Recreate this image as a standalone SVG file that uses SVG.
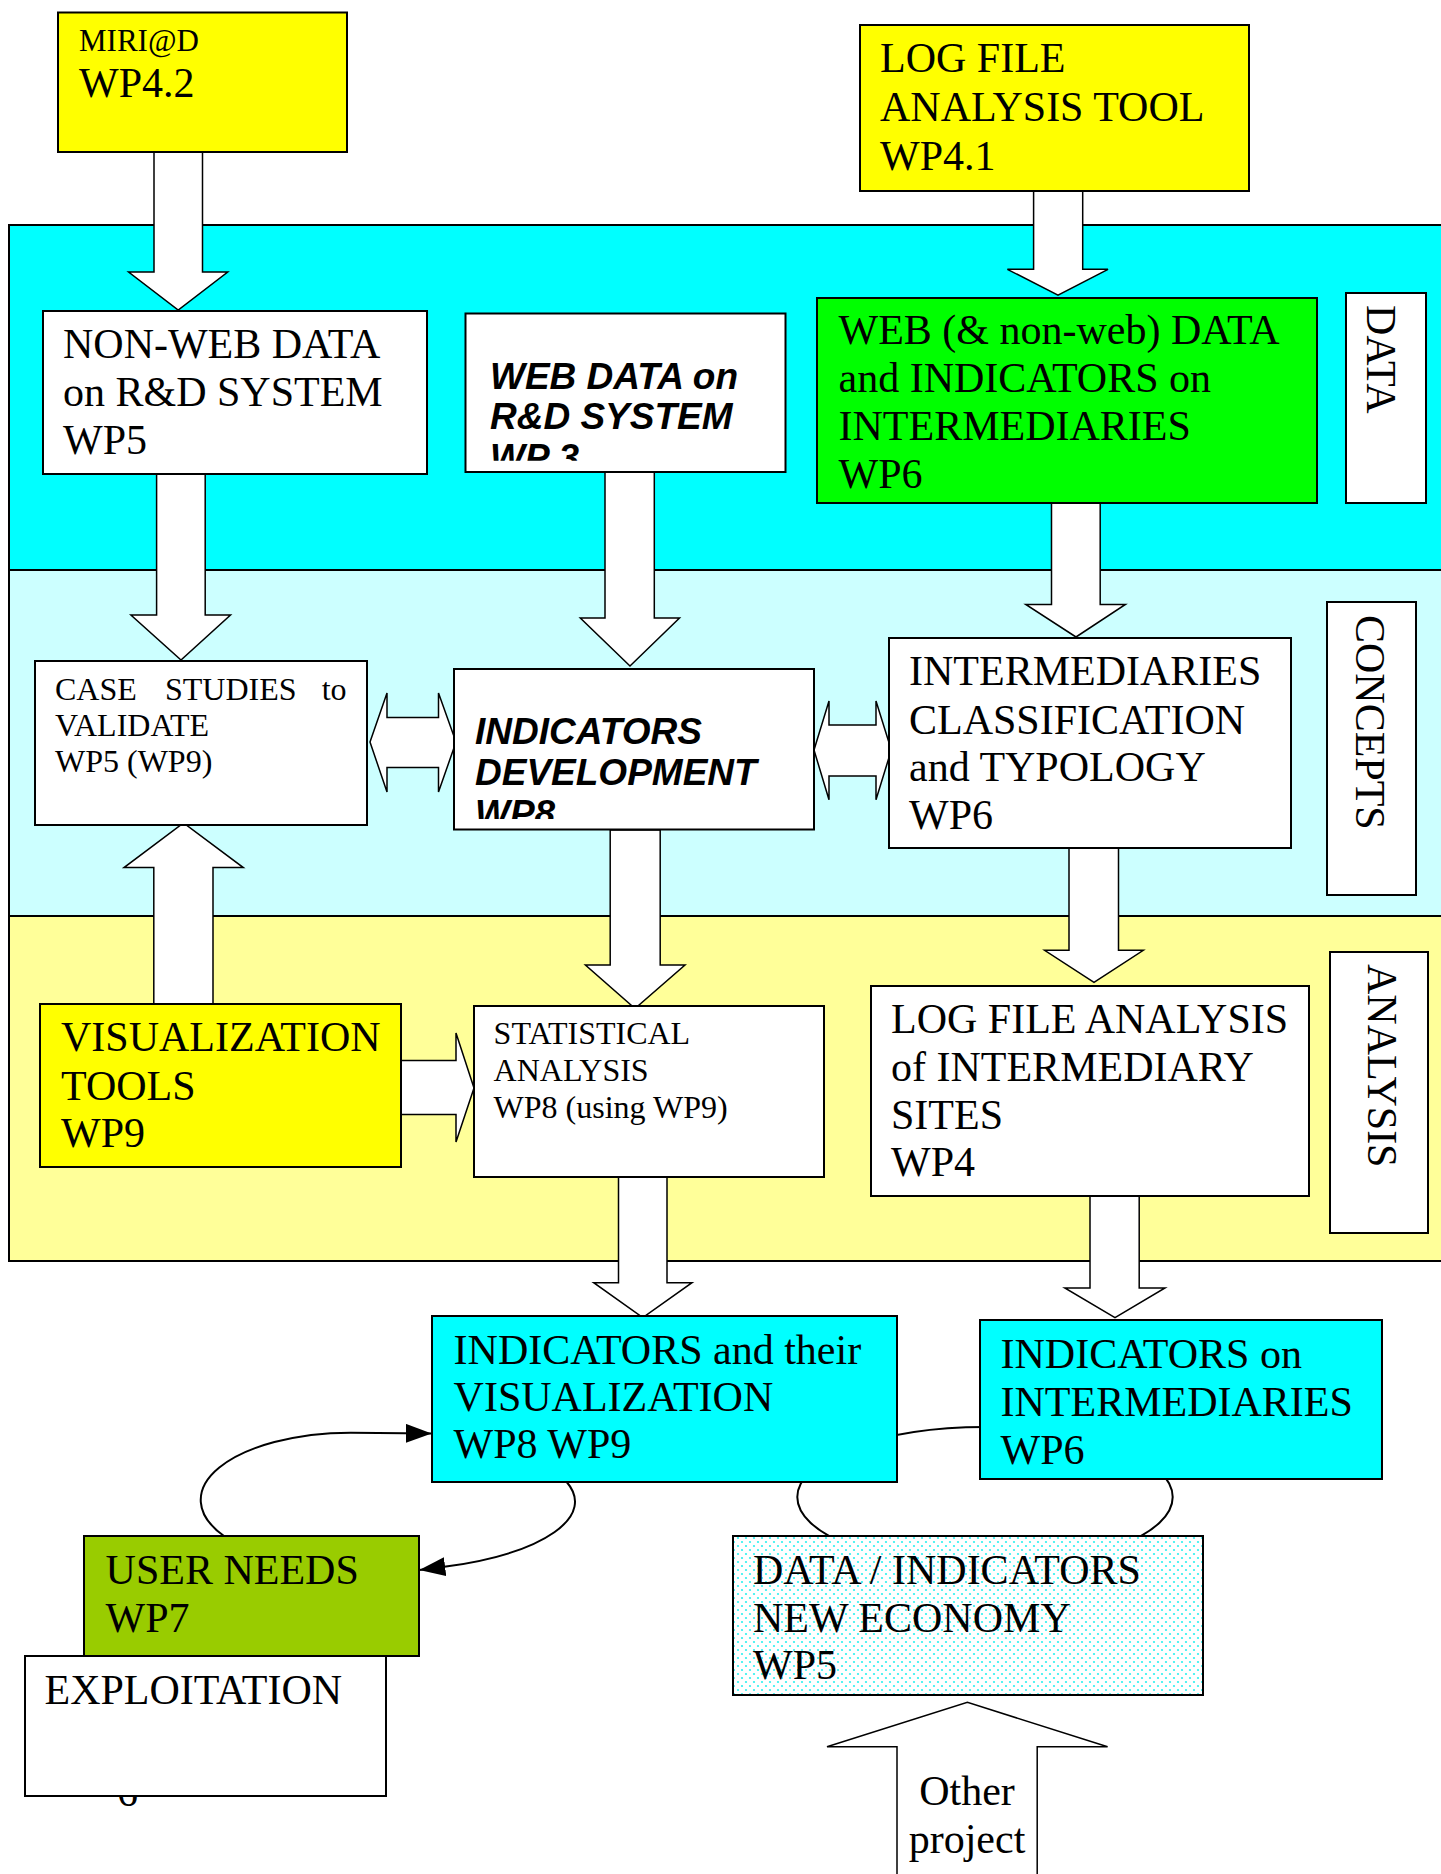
<svg xmlns="http://www.w3.org/2000/svg" width="1441" height="1874" viewBox="0 0 1441 1874">
  <style>
    .band { stroke: #000; stroke-width: 2; }
    .box { stroke: #000; stroke-width: 2; }
    .blk { fill: #fff; stroke: #000; stroke-width: 1.5; stroke-linejoin: miter; }
    .wire { fill: none; stroke: #000; stroke-width: 2; }
    .t { font-family: "Liberation Serif", "Times New Roman", serif; font-size: 42px; fill: #000; }
    .s { font-size: 32px; }
    .m { font-size: 31px; }
    .b { font-family: "Liberation Sans", Arial, sans-serif; font-weight: bold; font-style: italic; font-size: 37px; fill: #000; }
  </style>
  <defs>
    <pattern id="dots" width="8" height="8" patternUnits="userSpaceOnUse">
      <rect width="8" height="8" fill="#fff"/>
      <circle cx="2" cy="2" r="1.1" fill="#2ef0f0"/>
      <circle cx="6" cy="6" r="1.1" fill="#2ef0f0"/>
    </pattern>
    <marker id="head" markerUnits="userSpaceOnUse" markerWidth="28" markerHeight="20" refX="26" refY="9.5" orient="auto">
      <path d="M0,0 L26,9.5 L0,19 Z" fill="#000"/>
    </marker>
    <clipPath id="clipWeb"><rect x="466" y="314" width="319" height="146.7"/></clipPath>
    <clipPath id="clipInd"><rect x="455" y="670" width="358" height="149"/></clipPath>
  </defs>

  <!-- layer bands -->
  <g id="bands">
    <rect class="band" x="9" y="225" width="1440" height="345" fill="#0ff"/>
    <rect class="band" x="9" y="570" width="1440" height="346" fill="#cff"/>
    <rect class="band" x="9" y="916" width="1440" height="345" fill="#ff9"/>
  </g>

  <!-- page number, partly hidden by the EXPLOITATION box -->
  <text class="t" x="127.5" y="1806" font-size="20" text-anchor="middle">6</text>

  <g id="connectors">
    <!-- loop behind the output boxes -->
    <ellipse class="wire" cx="985" cy="1497" rx="187.7" ry="70"/>
    <!-- user needs feedback loop -->
    <path class="wire" d="M224,1536 A150 67.3 0 0 1 350.7,1432.7 L431.7,1433.6" marker-end="url(#head)"/>
    <path class="wire" d="M566.7,1482 A206 70 0 0 1 446,1566.6 L419.3,1570" marker-end="url(#head)"/>

    <!-- block arrows -->
    <path class="blk" d="M154,152 L202.5,152 L202.5,272 L227.7,272 L178.2,310 L128.6,272 L154,272 Z"/>
    <path class="blk" d="M1033.6,191 L1082.7,191 L1082.7,269.3 L1108,269.3 L1058,295.2 L1007.4,269.3 L1033.6,269.3 Z"/>
    <path class="blk" d="M156.6,474 L205.2,474 L205.2,615 L230.5,615 L181,660 L130.9,615 L156.6,615 Z"/>
    <path class="blk" d="M605,472 L654.3,472 L654.3,618 L679.5,618 L630,666 L580.3,618 L605,618 Z"/>
    <path class="blk" d="M1051.5,503 L1100.2,503 L1100.2,604.5 L1125.4,604.5 L1076,637 L1025.8,604.5 L1051.5,604.5 Z"/>
    <path class="blk" d="M153.8,1004 L213,1004 L213,867.6 L243.3,867.6 L183.5,823 L124,867.6 L153.8,867.6 Z"/>
    <path class="blk" d="M610.2,830 L660.2,830 L660.2,965 L685,965 L635,1008.6 L585.4,965 L610.2,965 Z"/>
    <path class="blk" d="M1069,848 L1118.5,848 L1118.5,950.3 L1143.3,950.3 L1094,982.4 L1044.6,950.3 L1069,950.3 Z"/>
    <path class="blk" d="M618.5,1177 L667,1177 L667,1282.7 L692,1282.7 L642.8,1317.6 L593.7,1282.7 L618.5,1282.7 Z"/>
    <path class="blk" d="M1090,1196 L1139.2,1196 L1139.2,1288 L1165,1288 L1115,1317.6 L1064.8,1288 L1090,1288 Z"/>
    <path class="blk" d="M401,1060.5 L456,1060.5 L456,1033 L474,1088 L456,1142 L456,1114.6 L401,1114.6 Z"/>
    <path class="blk" d="M370,742 L387,693 L387,717.5 L438.5,717.5 L438.5,693 L456,742 L438.5,792 L438.5,767.5 L387,767.5 L387,792 Z"/>
    <path class="blk" d="M814,750 L829,701 L829,725 L876,725 L876,701 L891.3,750 L876,799.7 L876,776 L829,776 L829,799.7 Z"/>
    <path class="blk" d="M897,1880 L897,1746.7 L827,1746.7 L967.4,1702.4 L1107.6,1746.7 L1037.2,1746.7 L1037.2,1880 Z"/>
    <text class="t" x="967" y="1805.4" text-anchor="middle">Other</text>
    <text class="t" x="967" y="1853" text-anchor="middle">project</text>
  </g>

  <g id="miriad">
    <rect class="box" x="58" y="12.5" width="289" height="139.5" fill="#ff0"/>
    <text class="t m" x="79" y="50.7">MIRI@D</text>
    <text class="t" x="79" y="97">WP4.2</text>
  </g>

  <g id="logfile-tool">
    <rect class="box" x="860" y="25" width="389" height="166" fill="#ff0"/>
    <text class="t" x="880" y="72">LOG FILE</text>
    <text class="t" x="880" y="121">ANALYSIS TOOL</text>
    <text class="t" x="880" y="169.5">WP4.1</text>
  </g>

  <g id="nonweb-data">
    <rect class="box" x="43" y="311" width="384" height="163" fill="#fff"/>
    <text class="t" x="63" y="358">NON-WEB DATA</text>
    <text class="t" x="63" y="406">on R&amp;D SYSTEM</text>
    <text class="t" x="63" y="454">WP5</text>
  </g>

  <g id="web-data">
    <rect class="box" x="465.5" y="313.5" width="320" height="158.5" fill="#fff"/>
    <g clip-path="url(#clipWeb)">
      <text class="b" x="490" y="389">WEB DATA on</text>
      <text class="b" x="490" y="429.3">R&amp;D SYSTEM</text>
      <text class="b" x="490" y="469.6">WP 3</text>
    </g>
  </g>

  <g id="web-intermediaries">
    <rect class="box" x="817" y="298" width="500" height="205" fill="#0f0"/>
    <text class="t" x="838.5" y="344">WEB (&amp; non-web) DATA</text>
    <text class="t" x="838.5" y="392">and INDICATORS on</text>
    <text class="t" x="838.5" y="440">INTERMEDIARIES</text>
    <text class="t" x="838.5" y="488">WP6</text>
  </g>

  <g id="label-data">
    <rect class="box" x="1346" y="293" width="80" height="210" fill="#fff"/>
    <text class="t" transform="translate(1366.5,305) rotate(90)">DATA</text>
  </g>

  <g id="case-studies">
    <rect class="box" x="35" y="661" width="332" height="164" fill="#fff"/>
    <text class="t s" y="700"><tspan x="55">CASE</tspan><tspan x="165">STUDIES</tspan></text>
    <text class="t s" x="346.6" y="700" text-anchor="end">to</text>
    <text class="t s" x="55" y="736">VALIDATE</text>
    <text class="t s" x="55" y="772">WP5 (WP9)</text>
  </g>

  <g id="indicators-development">
    <rect class="box" x="454" y="669" width="360" height="160.5" fill="#fff"/>
    <g clip-path="url(#clipInd)">
      <text class="b" x="475" y="744">INDICATORS</text>
      <text class="b" x="475" y="785">DEVELOPMENT</text>
      <text class="b" x="475" y="826">WP8</text>
    </g>
  </g>

  <g id="intermediaries-classification">
    <rect class="box" x="889" y="638" width="402" height="210" fill="#fff"/>
    <text class="t" x="909" y="685">INTERMEDIARIES</text>
    <text class="t" x="909" y="733.5">CLASSIFICATION</text>
    <text class="t" x="909" y="781.3">and TYPOLOGY</text>
    <text class="t" x="909" y="828.6">WP6</text>
  </g>

  <g id="label-concepts">
    <rect class="box" x="1327" y="602" width="89" height="293" fill="#fff"/>
    <text class="t" transform="translate(1356,615) rotate(90)">CONCEPTS</text>
  </g>

  <g id="visualization-tools">
    <rect class="box" x="40" y="1004" width="361" height="163" fill="#ff0"/>
    <text class="t" x="61" y="1051">VISUALIZATION</text>
    <text class="t" x="61" y="1099.5">TOOLS</text>
    <text class="t" x="61" y="1147">WP9</text>
  </g>

  <g id="statistical-analysis">
    <rect class="box" x="474" y="1006" width="350" height="171" fill="#fff"/>
    <text class="t s" x="493.6" y="1044.4">STATISTICAL</text>
    <text class="t s" x="493.6" y="1081">ANALYSIS</text>
    <text class="t s" x="493.6" y="1118">WP8 (using WP9)</text>
  </g>

  <g id="logfile-analysis">
    <rect class="box" x="871" y="986" width="438" height="210" fill="#fff"/>
    <text class="t" x="891" y="1033">LOG FILE ANALYSIS</text>
    <text class="t" x="891" y="1081">of INTERMEDIARY</text>
    <text class="t" x="891" y="1129">SITES</text>
    <text class="t" x="891" y="1176">WP4</text>
  </g>

  <g id="label-analysis">
    <rect class="box" x="1330" y="952" width="98" height="281" fill="#fff"/>
    <text class="t" transform="translate(1368,964) rotate(90)">ANALYSIS</text>
  </g>

  <g id="indicators-visualization">
    <rect class="box" x="432" y="1316" width="465" height="166" fill="#0ff"/>
    <text class="t" x="453.6" y="1363.8">INDICATORS and their</text>
    <text class="t" x="453.6" y="1410.7">VISUALIZATION</text>
    <text class="t" x="453.6" y="1457.7">WP8 WP9</text>
  </g>

  <g id="indicators-intermediaries">
    <rect class="box" x="980" y="1320" width="402" height="159" fill="#0ff"/>
    <text class="t" x="1000.5" y="1367.7">INDICATORS on</text>
    <text class="t" x="1000.5" y="1415.8">INTERMEDIARIES</text>
    <text class="t" x="1000.5" y="1463.6">WP6</text>
  </g>

  <g id="user-needs">
    <rect class="box" x="84" y="1536" width="335" height="120" fill="#9c0"/>
    <text class="t" x="105.6" y="1584">USER NEEDS</text>
    <text class="t" x="105.6" y="1632">WP7</text>
  </g>

  <g id="exploitation">
    <rect class="box" x="25" y="1656" width="361" height="140" fill="#fff"/>
    <text class="t" x="44.5" y="1704.4">EXPLOITATION</text>
  </g>

  <g id="new-economy">
    <rect class="box" x="733" y="1536" width="470" height="159" fill="url(#dots)"/>
    <text class="t" x="753" y="1584.2">DATA / INDICATORS</text>
    <text class="t" x="753" y="1632">NEW ECONOMY</text>
    <text class="t" x="753" y="1679">WP5</text>
  </g>
</svg>
